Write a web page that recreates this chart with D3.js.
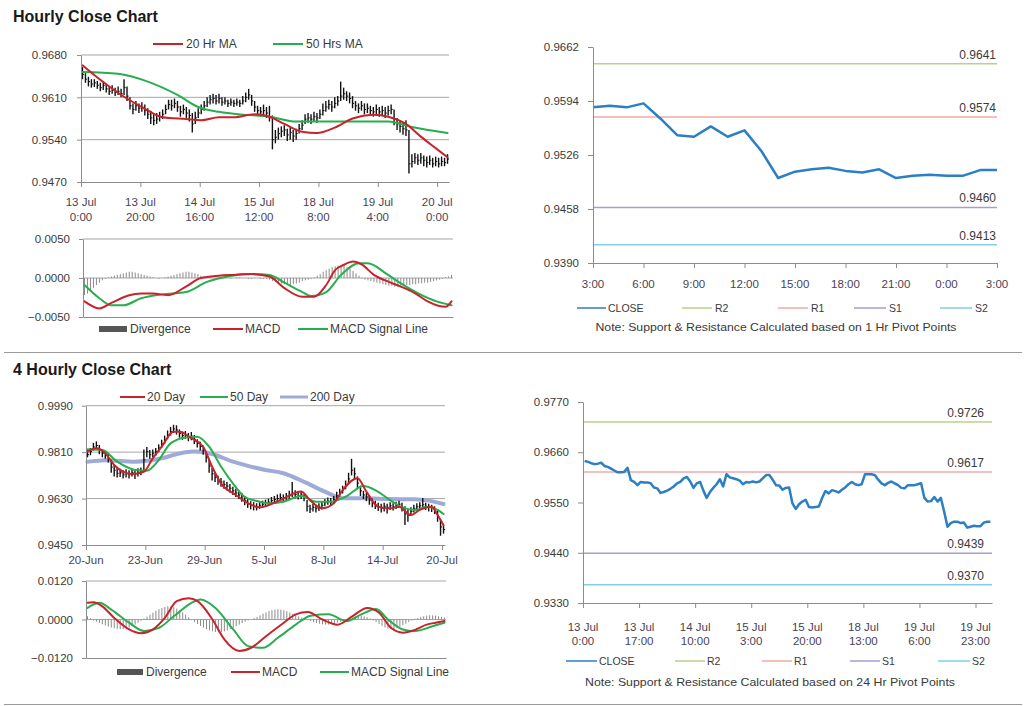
<!DOCTYPE html>
<html><head><meta charset="utf-8">
<script src="https://cdn.jsdelivr.net/npm/d3@7/dist/d3.min.js"></script>
<style>
body{margin:0;background:#fff;}
svg text{font-family:"Liberation Sans",Arial,sans-serif;}
</style>
</head><body>
<svg id="c" width="1024" height="706"></svg>
<script>
// ================= DATA =================
// --- Hourly OHLC (top-left) ---
const hrTickLabels = [["13 Jul","0:00"],["13 Jul","20:00"],["14 Jul","16:00"],["15 Jul","12:00"],["18 Jul","8:00"],["19 Jul","4:00"],["20 Jul","0:00"]];
const hrPriceTicks = [0.9470,0.9540,0.9610,0.9680];
const hrClose = [
0.9648,0.9640,0.9636,0.9632,0.9634,0.9630,0.9626,0.9630,0.9624,0.9620,
0.9622,0.9618,0.9620,0.9616,0.9626,0.9612,0.9596,0.9590,0.9596,0.9592,
0.9594,0.9588,0.9582,0.9576,0.9572,0.9574,0.9578,0.9582,0.9590,0.9598,
0.9596,0.9600,0.9594,0.9586,0.9590,0.9584,0.9580,0.9566,0.9576,0.9584,
0.9590,0.9596,0.9602,0.9606,0.9608,0.9604,0.9608,0.9602,0.9604,0.9600,
0.9602,0.9600,0.9602,0.9600,0.9604,0.9610,0.9614,0.9604,0.9594,0.9588,
0.9586,0.9588,0.9584,0.9578,0.9540,0.9544,0.9550,0.9554,0.9556,0.9548,
0.9552,0.9546,0.9550,0.9558,0.9564,0.9574,0.9576,0.9574,0.9578,0.9576,
0.9582,0.9588,0.9594,0.9598,0.9594,0.9600,0.9604,0.9612,0.9616,0.9612,
0.9608,0.9600,0.9596,0.9592,0.9596,0.9590,0.9592,0.9588,0.9586,0.9590,
0.9586,0.9588,0.9584,0.9588,0.9590,0.9574,0.9566,0.9562,0.9558,0.9556,
0.9500,0.9504,0.9510,0.9506,0.9510,0.9506,0.9502,0.9506,0.9500,0.9504,
0.9500,0.9504,0.9502,0.9508];
const hrHigh = [
0.9660,0.9650,0.9644,0.9640,0.9640,0.9637,0.9634,0.9636,0.9632,0.9628,
0.9630,0.9626,0.9628,0.9624,0.9640,0.9628,0.9610,0.9600,0.9604,0.9600,
0.9602,0.9598,0.9592,0.9588,0.9582,0.9584,0.9586,0.9590,0.9598,0.9606,
0.9606,0.9608,0.9604,0.9596,0.9598,0.9594,0.9590,0.9584,0.9586,0.9592,
0.9598,0.9604,0.9610,0.9614,0.9616,0.9614,0.9616,0.9610,0.9610,0.9606,
0.9608,0.9606,0.9608,0.9606,0.9612,0.9618,0.9624,0.9614,0.9604,0.9596,
0.9594,0.9598,0.9594,0.9596,0.9580,0.9556,0.9560,0.9562,0.9564,0.9558,
0.9560,0.9556,0.9558,0.9566,0.9572,0.9582,0.9584,0.9582,0.9586,0.9584,
0.9590,0.9600,0.9604,0.9606,0.9604,0.9610,0.9612,0.9636,0.9626,0.9620,
0.9618,0.9612,0.9604,0.9600,0.9604,0.9600,0.9600,0.9596,0.9594,0.9598,
0.9594,0.9596,0.9594,0.9596,0.9598,0.9590,0.9576,0.9572,0.9568,0.9572,
0.9556,0.9516,0.9518,0.9516,0.9518,0.9514,0.9512,0.9514,0.9510,0.9512,
0.9510,0.9512,0.9510,0.9516];
const hrLow = [
0.9640,0.9634,0.9628,0.9626,0.9627,0.9624,0.9620,0.9622,0.9618,0.9614,
0.9616,0.9612,0.9614,0.9610,0.9614,0.9604,0.9590,0.9582,0.9588,0.9584,
0.9586,0.9580,0.9574,0.9566,0.9564,0.9566,0.9570,0.9574,0.9582,0.9590,
0.9588,0.9592,0.9586,0.9578,0.9582,0.9576,0.9570,0.9552,0.9566,0.9576,
0.9582,0.9588,0.9594,0.9598,0.9600,0.9598,0.9600,0.9596,0.9598,0.9594,
0.9596,0.9594,0.9596,0.9594,0.9598,0.9602,0.9606,0.9596,0.9586,0.9580,
0.9578,0.9580,0.9576,0.9570,0.9524,0.9534,0.9540,0.9544,0.9546,0.9538,
0.9540,0.9536,0.9540,0.9550,0.9556,0.9566,0.9568,0.9566,0.9570,0.9568,
0.9574,0.9580,0.9586,0.9590,0.9586,0.9592,0.9596,0.9604,0.9606,0.9604,
0.9600,0.9592,0.9588,0.9584,0.9588,0.9582,0.9584,0.9580,0.9578,0.9582,
0.9578,0.9580,0.9576,0.9580,0.9582,0.9564,0.9556,0.9552,0.9548,0.9546,
0.9484,0.9494,0.9500,0.9498,0.9500,0.9496,0.9494,0.9498,0.9494,0.9496,
0.9494,0.9496,0.9496,0.9500];
const hrMa20Idx = [0,6,14,20,27,35,40,46,51,58,63,68,74,79,85,91,98,103,109,114,119,123];
const hrMa20 = [0.9663,0.9639,0.9611,0.9594,0.9577,0.9574,0.9572,0.9577,0.9577,0.9582,0.9578,0.9566,0.9553,0.9551,0.9560,0.9575,0.9581,0.9578,0.9566,0.9545,0.9526,0.9511];
const hrMa50Idx = [0,12,22,32,39,46,55,63,72,89,103,111,123];
const hrMa50 = [0.9652,0.9649,0.9636,0.9614,0.9594,0.9586,0.9581,0.9578,0.9570,0.9570,0.9570,0.9561,0.9551];
// --- Hourly MACD ---
const hrMacdTicks = [-0.005,0,0.005];
const hrMacdIdx = [0,5,9,15,19,23,28,34,39,45,50,56,62,67,73,77,81,84,87,90,93,97,102,106,111,115,121,123];
const hrMacd = [-0.0030,-0.0039,-0.0032,-0.0022,-0.0020,-0.0020,-0.0022,-0.0011,0.0000,0.0003,0.0004,0.0005,0.0002,-0.0013,-0.0024,-0.0024,-0.0009,0.0010,0.0017,0.0021,0.0017,0.0004,-0.0005,-0.0011,-0.0020,-0.0030,-0.0037,-0.0030];
const hrSigIdx = [0,5,9,13,19,26,34,41,48,56,62,67,73,76,81,86,92,95,101,106,112,118,123];
const hrSig = [-0.0009,-0.0026,-0.0035,-0.0035,-0.0026,-0.0021,-0.0018,-0.0005,0.0002,0.0005,0.0004,-0.0006,-0.0018,-0.0023,-0.0018,0.0004,0.0019,0.0019,0.0006,-0.0007,-0.0020,-0.0030,-0.0035];
const hrDiv = [
-.0022,-.0020,-.0017,-.0013,-.0009,-.0006,-.0003,-.0001,.0001,
.0002,.0003,.0004,.0005,.0006,.0007,.0008,.0008,.0007,.0006,.0005,.0004,.0003,.0002,
.0001,0,-.0001,0,.0001,
.0002,.0003,.0004,.0005,.0006,.0007,.0008,.0008,.0007,.0006,.0005,.0003,.0002,
.0001,.0001,0,0,.0001,.0001,0,0,-.0001,0,.0001,.0001,0,0,-.0001,-.0001,0,0,-.0001,-.0001,
-.0001,-.0002,-.0004,-.0005,-.0006,-.0007,-.0008,-.0009,-.0009,-.0008,-.0007,-.0006,-.0004,-.0003,-.0002,-.0001,
.0001,.0003,.0005,.0008,.0010,.0012,.0014,.0015,.0016,.0017,.0016,.0014,.0012,.0009,.0006,.0003,
-.0001,-.0002,-.0003,-.0004,-.0005,-.0006,-.0007,-.0008,-.0009,-.0010,-.0010,-.0011,-.0011,-.0010,-.0010,-.0009,-.0009,-.0008,-.0008,-.0007,-.0007,-.0006,-.0006,-.0005,-.0004,-.0003,-.0002,-.0001,
.0001,.0002,.0004];

// --- 4 Hourly OHLC (bottom-left) ---
const h4TickLabels = ["20-Jun","23-Jun","29-Jun","5-Jul","8-Jul","14-Jul","20-Jul"];
const h4PriceTicks = [0.9450,0.9630,0.9810,0.9990];
const h4Close = [
0.9800,0.9812,0.9830,0.9836,0.9818,0.9806,0.9800,0.9786,0.9752,0.9740,
0.9728,0.9730,0.9722,0.9728,0.9724,0.9730,0.9726,0.9732,0.9736,0.9780,
0.9812,0.9800,0.9806,0.9812,0.9826,0.9842,0.9858,0.9876,0.9890,0.9900,
0.9896,0.9882,0.9874,0.9878,0.9868,0.9872,0.9860,0.9844,0.9832,0.9820,
0.9790,0.9756,0.9726,0.9712,0.9700,0.9694,0.9684,0.9678,0.9670,0.9660,
0.9652,0.9644,0.9636,0.9622,0.9610,0.9604,0.9600,0.9598,0.9604,0.9608,
0.9612,0.9616,0.9622,0.9626,0.9630,0.9634,0.9630,0.9638,0.9644,0.9650,
0.9646,0.9640,0.9644,0.9636,0.9600,0.9590,0.9596,0.9592,0.9598,0.9604,
0.9614,0.9620,0.9616,0.9626,0.9640,0.9652,0.9664,0.9680,0.9706,0.9740,
0.9726,0.9690,0.9660,0.9644,0.9636,0.9624,0.9614,0.9606,0.9598,0.9594,
0.9600,0.9596,0.9602,0.9598,0.9604,0.9608,0.9596,0.9570,0.9566,0.9580,
0.9592,0.9598,0.9602,0.9606,0.9600,0.9596,0.9592,0.9586,0.9560,0.9520,
0.9510];
const h4High = [
0.9820,0.9826,0.9846,0.9852,0.9838,0.9822,0.9814,0.9804,0.9780,0.9760,
0.9748,0.9746,0.9740,0.9744,0.9740,0.9746,0.9742,0.9748,0.9750,0.9820,
0.9830,0.9818,0.9820,0.9826,0.9840,0.9858,0.9874,0.9894,0.9908,0.9916,
0.9914,0.9898,0.9890,0.9892,0.9884,0.9888,0.9876,0.9860,0.9850,0.9836,
0.9812,0.9780,0.9750,0.9730,0.9718,0.9710,0.9700,0.9694,0.9686,0.9676,
0.9668,0.9660,0.9652,0.9640,0.9628,0.9620,0.9616,0.9612,0.9618,0.9622,
0.9626,0.9630,0.9636,0.9640,0.9646,0.9650,0.9646,0.9652,0.9660,0.9694,
0.9662,0.9656,0.9658,0.9650,0.9624,0.9606,0.9610,0.9606,0.9612,0.9618,
0.9628,0.9634,0.9632,0.9640,0.9656,0.9668,0.9680,0.9700,0.9730,0.9784,
0.9750,0.9716,0.9680,0.9660,0.9652,0.9640,0.9630,0.9622,0.9614,0.9610,
0.9614,0.9610,0.9616,0.9612,0.9618,0.9622,0.9614,0.9600,0.9588,0.9596,
0.9606,0.9612,0.9616,0.9632,0.9614,0.9610,0.9606,0.9600,0.9584,0.9548,
0.9528];
const h4Low = [
0.9790,0.9798,0.9816,0.9820,0.9802,0.9790,0.9784,0.9770,0.9730,0.9716,
0.9712,0.9714,0.9708,0.9712,0.9708,0.9716,0.9706,0.9716,0.9720,0.9740,
0.9790,0.9784,0.9790,0.9796,0.9810,0.9826,0.9842,0.9860,0.9874,0.9884,
0.9878,0.9866,0.9858,0.9862,0.9852,0.9856,0.9842,0.9828,0.9816,0.9800,
0.9770,0.9730,0.9700,0.9694,0.9684,0.9676,0.9668,0.9662,0.9654,0.9644,
0.9636,0.9628,0.9618,0.9604,0.9594,0.9588,0.9584,0.9584,0.9590,0.9594,
0.9598,0.9602,0.9608,0.9610,0.9616,0.9620,0.9616,0.9622,0.9628,0.9636,
0.9630,0.9626,0.9628,0.9620,0.9580,0.9574,0.9580,0.9576,0.9582,0.9588,
0.9600,0.9606,0.9602,0.9610,0.9626,0.9638,0.9650,0.9666,0.9690,0.9720,
0.9706,0.9668,0.9640,0.9628,0.9620,0.9606,0.9596,0.9590,0.9582,0.9576,
0.9580,0.9572,0.9586,0.9584,0.9590,0.9594,0.9580,0.9528,0.9540,0.9564,
0.9576,0.9584,0.9588,0.9592,0.9586,0.9580,0.9578,0.9570,0.9540,0.9486,
0.9494];
const h4Ma20Idx = [0,3,6,9,12,15,19,22,25,29,31,35,39,42,45,50,54,58,65,72,75,79,83,86,91,94,98,102,105,109,112,116,118,120];
const h4Ma20 = [0.9812,0.9825,0.9806,0.9760,0.9734,0.9725,0.9734,0.9786,0.9831,0.9889,0.9889,0.9864,0.9831,0.9754,0.9689,0.9644,0.9612,0.9596,0.9624,0.9657,0.9624,0.9592,0.9612,0.9663,0.9709,0.9657,0.9598,0.9592,0.9598,0.9566,0.9586,0.9598,0.9566,0.9527];
const h4Ma50Idx = [0,5,10,16,20,24,28,33,37,41,45,49,53,58,61,66,72,77,82,87,93,97,102,106,111,114,118,120];
const h4Ma50 = [0.9821,0.9818,0.9773,0.9741,0.9738,0.9779,0.9844,0.9867,0.9870,0.9831,0.9754,0.9689,0.9637,0.9618,0.9612,0.9618,0.9640,0.9618,0.9618,0.9637,0.9679,0.9663,0.9624,0.9596,0.9586,0.9598,0.9586,0.9570];
const h4Ma200Idx = [0,6,16,25,31,36,42,49,55,60,66,73,80,86,93,102,110,115,120];
const h4Ma200 = [0.9773,0.9779,0.9773,0.9786,0.9805,0.9812,0.9803,0.9773,0.9754,0.9741,0.9728,0.9695,0.9657,0.9631,0.9631,0.9628,0.9627,0.9622,0.9609];
// --- 4 Hourly MACD ---
const h4MacdTicks = [-0.012,0,0.012];
const h4MacdIdx = [0,2,5,9,14,18,22,26,30,34,37,42,46,51,55,60,66,70,74,79,84,89,94,98,102,106,109,114,117,120];
const h4Macd = [0.0052,0.0054,0.0041,0.0005,-0.0031,-0.0043,-0.0031,0.0005,0.0057,0.0066,0.0057,0.0000,-0.0062,-0.0098,-0.0088,-0.0052,-0.0010,0.0016,0.0023,0.0000,-0.0016,0.0010,0.0036,0.0021,-0.0026,-0.0041,-0.0036,-0.0016,-0.0010,-0.0005];
const h4SigIdx = [0,4,8,14,19,24,29,35,38,43,49,54,59,64,70,75,81,87,92,97,101,106,110,116,120];
const h4Sig = [0.0036,0.0052,0.0031,-0.0010,-0.0036,-0.0026,0.0010,0.0052,0.0062,0.0036,-0.0031,-0.0083,-0.0088,-0.0057,-0.0016,0.0012,0.0016,-0.0005,0.0016,0.0033,0.0000,-0.0031,-0.0036,-0.0021,-0.0010];
const h4Div = [
.0010,.0004,
-.0003,-.0007,-.0011,-.0015,-.0019,-.0022,-.0025,-.0027,-.0029,-.0030,-.0030,-.0028,-.0025,-.0021,-.0016,-.0010,
-.0004,.0003,.0009,.0015,.0021,.0027,.0032,.0036,.0039,.0041,.0040,.0038,.0034,.0029,.0022,.0015,.0007,
-.0002,-.0008,-.0014,-.0020,-.0025,-.0030,-.0034,-.0037,-.0039,-.0040,-.0039,-.0037,-.0034,-.0030,-.0026,-.0021,-.0016,-.0011,-.0007,-.0003,0,
.0004,.0008,.0013,.0018,.0022,.0026,.0029,.0031,.0032,.0031,.0029,.0026,.0022,.0018,.0014,.0010,.0006,.0002,
-.0002,-.0005,-.0008,-.0011,-.0013,-.0015,-.0016,-.0016,-.0015,-.0013,-.0010,-.0007,-.0004,-.0001,
.0003,.0006,.0009,.0012,.0012,.0010,.0007,.0003,
-.0003,-.0008,-.0014,-.0020,-.0025,-.0029,-.0031,-.0030,-.0027,-.0023,-.0018,-.0013,-.0008,-.0003,
.0002,.0005,.0008,.0010,.0012,.0013,.0013,.0012,.0010,.0008,.0006];

// --- 1 Hr pivot chart (top-right) ---
const pv1TickLabels = ["3:00","6:00","9:00","12:00","15:00","18:00","21:00","0:00","3:00"];
const pv1YTicks = [0.9390,0.9458,0.9526,0.9594,0.9662];
const pv1Close = [0.9586,0.9588,0.9586,0.9591,0.9572,0.9551,0.9549,0.9562,0.9549,0.9557,0.9531,0.9497,0.9505,0.9508,0.9510,0.9506,0.9504,0.9508,0.9497,0.9500,0.9501,0.9500,0.9500,0.9507,0.9507];
const levelNames = ["R2","R1","S1","S2"];
const pv1Levels = [0.9641,0.9574,0.9460,0.9413];

// --- 24 Hr pivot chart (bottom-right) ---
const pv24TickLabels = [["13 Jul","0:00"],["13 Jul","17:00"],["14 Jul","10:00"],["15 Jul","3:00"],["15 Jul","20:00"],["18 Jul","13:00"],["19 Jul","6:00"],["19 Jul","23:00"]];
const pv24YTicks = [0.9330,0.9440,0.9550,0.9660,0.9770];
const pv24Close = [
0.9641,0.9639,0.9636,0.9634,0.9635,0.9637,0.9630,0.9628,0.9624,0.9620,
0.9616,0.9616,0.9617,0.9626,0.9599,0.9595,0.9588,0.9595,0.9594,0.9594,
0.9592,0.9583,0.9581,0.9571,0.9573,0.9576,0.9580,0.9585,0.9592,0.9595,
0.9603,0.9606,0.9596,0.9582,0.9592,0.9595,0.9576,0.9560,0.9573,0.9582,
0.9590,0.9601,0.9585,0.9612,0.9605,0.9603,0.9601,0.9598,0.9590,0.9595,
0.9594,0.9596,0.9594,0.9596,0.9603,0.9610,0.9610,0.9600,0.9588,0.9587,
0.9578,0.9582,0.9583,0.9548,0.9536,0.9546,0.9552,0.9556,0.9540,0.9539,
0.9540,0.9541,0.9560,0.9575,0.9570,0.9577,0.9575,0.9572,0.9578,0.9583,
0.9590,0.9595,0.9590,0.9588,0.9590,0.9612,0.9612,0.9612,0.9610,0.9600,
0.9592,0.9588,0.9593,0.9596,0.9592,0.9588,0.9582,0.9581,0.9588,0.9588,
0.9588,0.9590,0.9592,0.9560,0.9552,0.9553,0.9562,0.9552,0.9560,0.9530,
0.9497,0.9505,0.9508,0.9508,0.9505,0.9506,0.9495,0.9497,0.9499,0.9498,
0.9498,0.9506,0.9508,0.9508];
const pv24Levels = [0.9726,0.9617,0.9439,0.9370];

// ================= STYLE =================
const TXT = "#3a3a3a";
const RED = "#c8232a", GREEN = "#27ae4f", MA200 = "#9eabd6";
const BLUE = "#2c7fc3";
const LEVEL_COLORS = ["#b8d28c","#efaaaa","#aa9bd2","#84cfe6"];
const GRID = "#a6a6a6", AXIS = "#8c8c8c";
const fmt4 = d3.format(".4f");

const svg = d3.select("#c");

function text(x, y, s, o = {}) {
  return svg.append("text").attr("x", x).attr("y", y).text(s)
    .attr("font-size", o.size || 11.5).attr("fill", o.fill || TXT)
    .attr("text-anchor", o.anchor || "start")
    .attr("font-weight", o.weight || "normal");
}
function yAxis(x0, ys, ticks, tickLen, pad) {
  const g = svg.append("g").attr("transform", `translate(${x0},0)`)
    .call(d3.axisLeft(ys).tickValues(ticks).tickFormat(fmt4).tickSize(tickLen).tickSizeOuter(0).tickPadding(pad));
  g.attr("font-family", null).attr("font-size", null);
  g.select(".domain").attr("stroke", AXIS);
  g.selectAll(".tick line").attr("stroke", AXIS);
  g.selectAll(".tick text").attr("font-size", 11.5).attr("fill", TXT);
  return g;
}
function xAxisLine(y0, xs, ticks, tickLen) {
  const g = svg.append("g").attr("transform", `translate(0,${y0})`)
    .call(d3.axisBottom(xs).tickValues(ticks).tickFormat("").tickSize(tickLen).tickSizeOuter(0));
  g.select(".domain").attr("stroke", AXIS);
  g.selectAll(".tick line").attr("stroke", AXIS);
  return g;
}
function grid(xs, ys, ticks) {
  svg.append("g").selectAll("line").data(ticks).join("line")
    .attr("x1", xs.range()[0]).attr("x2", xs.range()[1])
    .attr("y1", d => ys(d)).attr("y2", d => ys(d))
    .attr("stroke", GRID).attr("stroke-width", 1);
}
function smooth(xs, ys, idx, vals, color, w, off) {
  svg.append("path").datum(d3.zip(idx, vals))
    .attr("d", d3.line().x(d => xs(d[0] + off)).y(d => ys(d[1])).curve(d3.curveMonotoneX))
    .attr("fill", "none").attr("stroke", color).attr("stroke-width", w)
    .attr("stroke-linejoin", "round").attr("stroke-linecap", "round");
}
function ohlc(xs, ys, hi, lo, cl) {
  const g = svg.append("g");
  g.selectAll("line.hl").data(hi).join("line").attr("class", "hl")
    .attr("x1", (d, i) => xs(i + 0.5)).attr("x2", (d, i) => xs(i + 0.5))
    .attr("y1", d => ys(d)).attr("y2", (d, i) => ys(lo[i]))
    .attr("stroke", "#111").attr("stroke-width", 1.4);
  g.selectAll("line.cl").data(cl).join("line").attr("class", "cl")
    .attr("x1", (d, i) => xs(i + 0.5)).attr("x2", (d, i) => xs(i + 0.5) + 1.6)
    .attr("y1", d => ys(d)).attr("y2", d => ys(d))
    .attr("stroke", "#111").attr("stroke-width", 1);
}
function divergence(xs, ys, vals) {
  svg.append("g").selectAll("line").data(vals).join("line")
    .attr("x1", (d, i) => xs(i + 0.5)).attr("x2", (d, i) => xs(i + 0.5))
    .attr("y1", ys(0)).attr("y2", d => ys(d))
    .attr("stroke", "#8a8a8a").attr("stroke-width", 1);
}
function legLine(x1, x2, y, color, w, label, tx, size) {
  svg.append("line").attr("x1", x1).attr("x2", x2).attr("y1", y).attr("y2", y)
    .attr("stroke", color).attr("stroke-width", w);
  text(tx, y + size * 0.36, label, { size: size });
}
function legBox(x1, x2, y, label, tx, size) {
  svg.append("rect").attr("x", x1).attr("y", y - 3).attr("width", x2 - x1).attr("height", 6).attr("fill", "#555");
  text(tx, y + size * 0.36, label, { size: size });
}

// ================= TITLES / SEPARATORS =================
text(13, 21.5, "Hourly Close Chart", { size: 16, weight: "bold", fill: "#1a1a1a" });
text(13, 374.5, "4 Hourly Close Chart", { size: 16, weight: "bold", fill: "#1a1a1a" });
svg.append("line").attr("x1", 4).attr("x2", 1022).attr("y1", 352.5).attr("y2", 352.5).attr("stroke", "#9a9a9a");
svg.append("line").attr("x1", 4).attr("x2", 1022).attr("y1", 704.5).attr("y2", 704.5).attr("stroke", "#9a9a9a");

// ================= PANEL A: hourly price =================
{
  const xs = d3.scaleLinear().domain([0, hrClose.length]).range([81, 449]);
  const ys = d3.scaleLinear().domain([0.9470, 0.9680]).range([182, 55]);
  const tickIdx = hrTickLabels.map((d, i) => i * 20);
  grid(xs, ys, hrPriceTicks.slice(1));
  ohlc(xs, ys, hrHigh, hrLow, hrClose);
  smooth(xs, ys, hrMa50Idx, hrMa50, GREEN, 2, 0.5);
  smooth(xs, ys, hrMa20Idx, hrMa20, RED, 2, 0.5);
  yAxis(81, ys, hrPriceTicks, 4, 10);
  xAxisLine(182, xs, tickIdx, 5);
  hrTickLabels.forEach((l, i) => {
    text(xs(tickIdx[i]), 206, l[0], { anchor: "middle", size: 11.5, fill: "#4a3f55" });
    text(xs(tickIdx[i]), 221, l[1], { anchor: "middle", size: 11.5, fill: "#4a3f55" });
  });
  legLine(153, 183, 44, RED, 2, "20 Hr MA", 186, 12);
  legLine(273, 303, 44, GREEN, 2, "50 Hrs MA", 306, 12);
}
// ================= PANEL B: hourly MACD =================
{
  const xs = d3.scaleLinear().domain([0, hrDiv.length]).range([83, 453]);
  const ys = d3.scaleLinear().domain([-0.005, 0.005]).range([317, 239]);
  grid(xs, ys, [0, 0.005]);
  divergence(xs, ys, hrDiv);
  smooth(xs, ys, hrSigIdx, hrSig, GREEN, 2, 0.5);
  smooth(xs, ys, hrMacdIdx, hrMacd, RED, 2, 0.5);
  yAxis(83, ys, hrMacdTicks, 4, 9);
  xAxisLine(317, xs, [], 0);
  legBox(99, 127, 329, "Divergence", 130, 12);
  legLine(213, 243, 329, RED, 2, "MACD", 245, 12);
  legLine(298, 328, 329, GREEN, 2, "MACD Signal Line", 330, 12);
}
// ================= PANEL C: 1 Hr pivot =================
{
  const xs = d3.scaleLinear().domain([0, pv1Close.length - 1]).range([593, 997]);
  const ys = d3.scaleLinear().domain([0.9390, 0.9662]).range([263, 47]);
  pv1Levels.forEach((v, i) => {
    svg.append("line").attr("x1", xs.range()[0]).attr("x2", xs.range()[1])
      .attr("y1", ys(v)).attr("y2", ys(v)).attr("stroke", LEVEL_COLORS[i]).attr("stroke-width", 1.5);
    text(996, ys(v) - 5, fmt4(v), { anchor: "end", size: 12 });
  });
  svg.append("path").datum(pv1Close)
    .attr("d", d3.line().x((d, i) => xs(i)).y(d => ys(d)))
    .attr("fill", "none").attr("stroke", BLUE).attr("stroke-width", 2.5).attr("stroke-linejoin", "round");
  yAxis(593, ys, pv1YTicks, 5, 9);
  const tickIdx = pv1TickLabels.map((d, i) => i * 3);
  xAxisLine(263, xs, tickIdx, 5);
  pv1TickLabels.forEach((l, i) => text(xs(tickIdx[i]), 288, l, { anchor: "middle", size: 11.5, fill: "#4a3f55" }));
  legLine(577, 606, 308, BLUE, 1.5, "CLOSE", 608, 10.5);
  const lx = [[682, 712, 715], [778, 808, 811], [854, 886, 889], [940, 972, 975]];
  levelNames.forEach((n, i) => legLine(lx[i][0], lx[i][1], 308, LEVEL_COLORS[i], 1.5, n, lx[i][2], 10.5));
  text(776, 331, "Note: Support & Resistance Calculated based on 1 Hr Pivot Points", { anchor: "middle", size: 11 })
    .attr("textLength", 361).attr("lengthAdjust", "spacingAndGlyphs");
}
// ================= PANEL D: 4 hourly price =================
{
  const xs = d3.scaleLinear().domain([0, h4Close.length]).range([86, 445]);
  const ys = d3.scaleLinear().domain([0.9450, 0.9990]).range([545, 405.7]);
  const tickIdx = h4TickLabels.map((d, i) => i * 20);
  grid(xs, ys, h4PriceTicks.slice(1));
  smooth(xs, ys, h4Ma200Idx, h4Ma200, MA200, 4, 0.5);
  ohlc(xs, ys, h4High, h4Low, h4Close);
  smooth(xs, ys, h4Ma50Idx, h4Ma50, GREEN, 2, 0.5);
  smooth(xs, ys, h4Ma20Idx, h4Ma20, RED, 2, 0.5);
  yAxis(86, ys, h4PriceTicks, 4, 9);
  xAxisLine(545, xs, tickIdx, 5);
  h4TickLabels.forEach((l, i) => text(xs(tickIdx[i]), 564, l, { anchor: "middle", size: 11.5, fill: "#4a3f55" }));
  legLine(120, 145, 397, RED, 2, "20 Day", 147, 12);
  legLine(200, 228, 397, GREEN, 2, "50 Day", 230, 12);
  legLine(280, 308, 397, MA200, 3, "200 Day", 310, 12);
}
// ================= PANEL E: 4 hourly MACD =================
{
  const xs = d3.scaleLinear().domain([0, h4Div.length]).range([86, 446]);
  const ys = d3.scaleLinear().domain([-0.012, 0.012]).range([658, 581]);
  grid(xs, ys, [0, 0.012]);
  divergence(xs, ys, h4Div);
  smooth(xs, ys, h4SigIdx, h4Sig, GREEN, 2, 0.5);
  smooth(xs, ys, h4MacdIdx, h4Macd, RED, 2, 0.5);
  yAxis(86, ys, h4MacdTicks, 4, 9);
  xAxisLine(658, xs, [], 0);
  legBox(117, 143, 672, "Divergence", 146, 12);
  legLine(231, 260, 672, RED, 2, "MACD", 262, 12);
  legLine(320, 349, 672, GREEN, 2, "MACD Signal Line", 351, 12);
}
// ================= PANEL F: 24 Hr pivot =================
{
  const xs = d3.scaleLinear().domain([0, pv24Close.length]).range([583, 992]);
  const ys = d3.scaleLinear().domain([0.9330, 0.9770]).range([603, 402]);
  pv24Levels.forEach((v, i) => {
    svg.append("line").attr("x1", xs.range()[0]).attr("x2", xs.range()[1])
      .attr("y1", ys(v)).attr("y2", ys(v)).attr("stroke", LEVEL_COLORS[i]).attr("stroke-width", 1.5);
    text(984, ys(v) - 5, fmt4(v), { anchor: "end", size: 12 });
  });
  svg.append("path").datum(pv24Close)
    .attr("d", d3.line().x((d, i) => xs(i + 0.5)).y(d => ys(d)))
    .attr("fill", "none").attr("stroke", BLUE).attr("stroke-width", 2.5).attr("stroke-linejoin", "round");
  yAxis(583, ys, pv24YTicks, 5, 9);
  const tickIdx = pv24TickLabels.map((d, i) => i * 17);
  xAxisLine(603, xs, tickIdx, 5);
  pv24TickLabels.forEach((l, i) => {
    text(xs(tickIdx[i]), 631, l[0], { anchor: "middle", size: 11.5, fill: "#4a3f55" });
    text(xs(tickIdx[i]), 645, l[1], { anchor: "middle", size: 11.5, fill: "#4a3f55" });
  });
  legLine(566, 597, 661, BLUE, 1.5, "CLOSE", 599, 10.5);
  const lx = [[675, 705, 707], [762, 792, 794], [850, 880, 882], [938, 970, 972]];
  levelNames.forEach((n, i) => legLine(lx[i][0], lx[i][1], 661, LEVEL_COLORS[i], 1.5, n, lx[i][2], 10.5));
  text(770, 686, "Note: Support & Resistance Calculated based on 24 Hr Pivot Points", { anchor: "middle", size: 11 })
    .attr("textLength", 370).attr("lengthAdjust", "spacingAndGlyphs");
}
</script>
</body></html>
